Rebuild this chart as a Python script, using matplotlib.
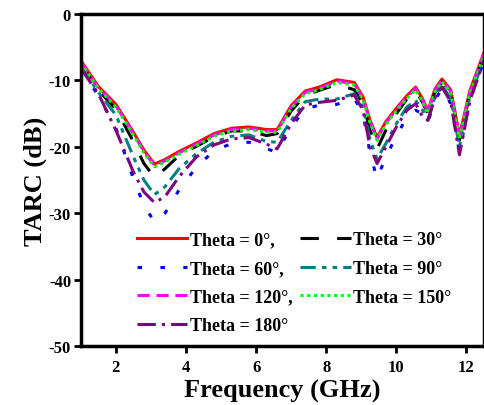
import numpy as np
import matplotlib
matplotlib.use("Agg")
import matplotlib.pyplot as plt

plt.rcParams["font.family"] = ["Liberation Serif", "DejaVu Serif"]
plt.rcParams["font.weight"] = "bold"
plt.rcParams["axes.unicode_minus"] = False

freq = [1.0, 1.5, 2.0, 2.5, 2.8, 3.1, 3.4, 3.8, 4.3, 4.8, 5.3, 5.8, 6.3, 6.6, 7.0, 7.4,
        7.8, 8.3, 8.8, 9.05, 9.25, 9.45, 9.7, 10.0, 10.3, 10.55, 10.75, 10.9, 11.1, 11.3,
        11.55, 11.8, 12.1, 12.5]

t0 = [-7.0, -10.9, -13.6, -17.8, -20.5, -22.6, -21.9, -20.7, -19.4, -18.0, -17.2, -17.0,
      -17.4, -17.4, -13.8, -11.6, -11.0, -9.9, -10.3, -12.5, -16.0, -18.6, -16.2, -14.2,
      -12.3, -11.0, -12.8, -14.6, -11.3, -9.8, -11.4, -18.3, -11.5, -5.8]
t30 = [-7.5, -11.5, -14.3, -19.2, -22.5, -24.6, -23.3, -21.3, -19.9, -18.5, -17.6, -17.6,
       -18.3, -18.0, -14.6, -12.2, -11.5, -10.6, -11.4, -13.5, -17.5, -20.3, -17.5, -15.0,
       -12.8, -11.6, -13.3, -15.0, -11.8, -10.2, -11.8, -19.0, -12.0, -6.3]
t60 = [-8.3, -12.3, -17.2, -24.8, -28.8, -31.3, -30.0, -26.5, -23.0, -20.6, -19.5, -19.3,
       -20.3, -20.8, -17.0, -14.3, -13.7, -13.6, -12.7, -15.0, -21.0, -24.8, -21.5, -18.4,
       -15.5, -14.5, -15.0, -16.3, -13.0, -11.2, -13.5, -20.8, -13.0, -7.0]
t90 = [-7.8, -11.8, -15.2, -21.5, -25.0, -27.2, -26.0, -23.3, -21.0, -19.3, -18.4, -18.2,
       -19.2, -19.3, -16.0, -13.2, -12.8, -12.8, -12.0, -14.0, -19.0, -21.8, -19.5, -16.5,
       -14.0, -13.0, -14.5, -16.0, -12.5, -10.6, -12.8, -20.0, -12.5, -6.8]
t120 = [-7.2, -11.1, -13.8, -18.0, -20.7, -22.8, -22.1, -20.9, -19.6, -18.2, -17.4, -17.2,
        -17.6, -17.6, -14.0, -11.8, -11.2, -10.1, -10.5, -12.7, -16.2, -18.8, -16.4, -14.4,
        -12.5, -11.2, -13.0, -14.8, -11.5, -10.0, -11.6, -18.5, -11.7, -6.0]
t150 = [-7.3, -11.2, -14.0, -18.2, -20.9, -23.0, -22.3, -21.1, -19.8, -18.4, -17.6, -17.4,
        -17.8, -17.8, -14.2, -12.0, -11.4, -10.3, -10.7, -12.9, -16.4, -19.0, -16.6, -14.6,
        -12.7, -11.4, -13.2, -15.0, -11.7, -10.2, -11.8, -18.7, -11.9, -6.2]
t180 = [-8.2, -12.0, -17.5, -23.8, -26.8, -28.4, -27.5, -24.5, -21.5, -19.7, -18.8, -18.6,
        -19.6, -20.3, -16.5, -13.7, -13.3, -13.0, -12.2, -14.5, -20.0, -22.5, -20.0, -17.0,
        -14.5, -13.5, -15.5, -16.0, -12.6, -11.0, -13.2, -21.2, -13.0, -7.0]

labels = ["Theta = 0°,", "Theta = 30°", "Theta = 60°,", "Theta = 90°",
          "Theta = 120°,", "Theta = 150°", "Theta = 180°"]
series = [t0, t30, t60, t90, t120, t150, t180]
colors = ["#ff0000", "#000000", "#0000ff", "#008080", "#ff00ff", "#00ff00", "#800080"]
styles = ["-", (0, (6, 6)), (0, (1.5, 6)), (0, (5, 2, 1.5, 2, 1.5, 2)), (0, (4, 2.2)),
          (0, (1, 1.2)), (0, (6, 2, 1, 2))]

fig = plt.figure(figsize=(4.84, 4.06), dpi=100)
ax = fig.add_axes([0.167, 0.145, 0.833, 0.818])

handles = []
for y, c, ls in zip(series, colors, styles):
    h, = ax.plot(freq, y, color=c, ls=ls, lw=2.2)
    handles.append(h)

ax.set_xlim(1, 12.5)
ax.set_ylim(-50, 0)
ax.set_xticks([2, 4, 6, 8, 10, 12])
ax.set_yticks([0, -10, -20, -30, -40, -50])
ax.tick_params(direction="out", length=5, width=2, labelsize=12, pad=2)
ax.tick_params(axis="x", pad=4)
for s in ax.spines.values():
    s.set_linewidth(2.5)
ax.set_xlabel("Frequency (GHz)", fontsize=19, fontweight="bold", labelpad=3)
ax.set_ylabel("TARC (dB)", fontsize=19, fontweight="bold", labelpad=1)

order = [0, 2, 4, 6, 1, 3, 5]
ax.legend([handles[i] for i in order], [labels[i] for i in order], ncol=2,
          loc="upper left", bbox_to_anchor=(0.139, 0.346), frameon=False,
          borderaxespad=0, borderpad=0, fontsize=13, handlelength=2.8,
          handletextpad=0.15, columnspacing=0.4, labelspacing=0.65)

fig.savefig("out.png", dpi=100)
